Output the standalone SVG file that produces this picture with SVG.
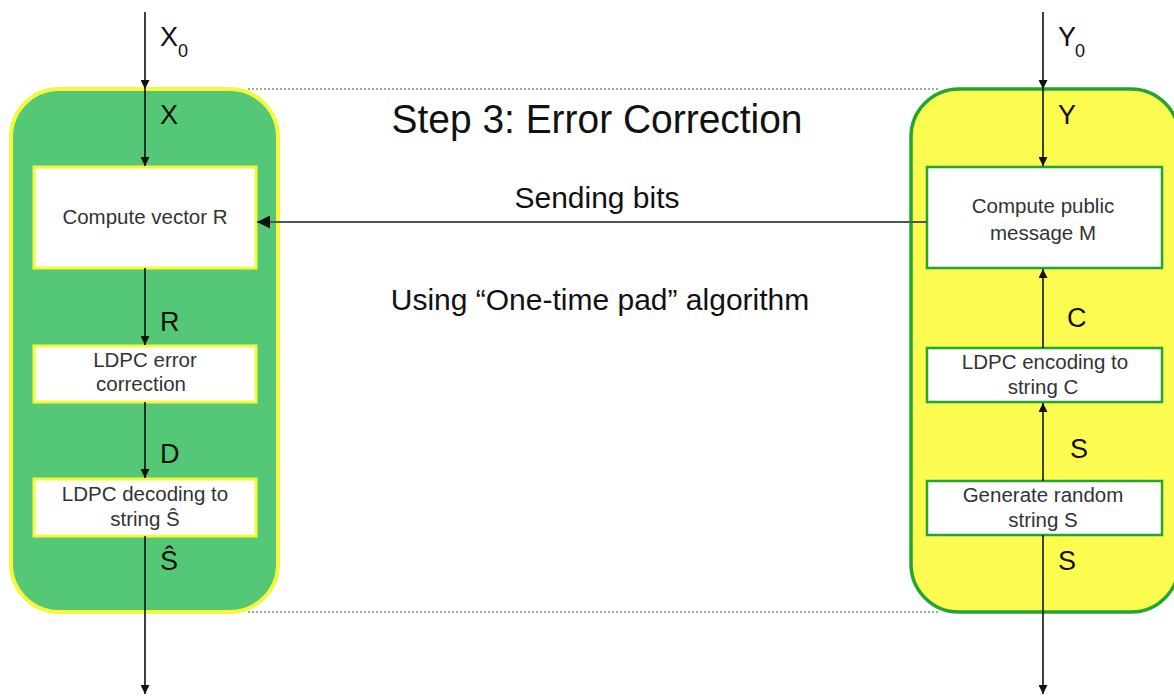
<svg xmlns="http://www.w3.org/2000/svg" width="1174" height="697" viewBox="0 0 1174 697">
<style>
text{font-family:"Liberation Sans",Arial,sans-serif}
.box{font-size:20.5px;fill:#333;text-anchor:middle}
.lbl{font-size:27px;fill:#111}
.sub{font-size:18px;fill:#111}
.big{font-size:30px;fill:#111;text-anchor:middle}
.ttl{font-size:40px;fill:#111;text-anchor:middle}
.ln{stroke:#111;stroke-width:1.6;fill:none}
.dot{stroke:#888;stroke-width:1.5;stroke-dasharray:2 2;fill:none}
</style>
<defs>
<marker id="ah" viewBox="0 0 10 10" refX="10" refY="5" markerWidth="9" markerHeight="9" markerUnits="userSpaceOnUse" orient="auto">
<path d="M0,0 L10,5 L0,10 z" fill="#111"/>
</marker>
<marker id="ahb" viewBox="0 0 10 10" refX="10" refY="5" markerWidth="13" markerHeight="13" markerUnits="userSpaceOnUse" orient="auto">
<path d="M0,0 L10,5 L0,10 z" fill="#111"/>
</marker>
</defs>
<rect width="1174" height="697" fill="#fff"/>
<g id="frame">
<line class="dot" x1="248" y1="89" x2="940" y2="89"/>
<line class="dot" x1="248" y1="612" x2="940" y2="612"/>
</g>
<g id="left-panel">
<rect x="11" y="89" width="267" height="523" rx="48" fill="#55c878" stroke="#f8f83a" stroke-width="4"/>
</g>
<g id="right-panel">
<rect x="911" y="89" width="268" height="523" rx="48" fill="#fcfc50" stroke="#22a532" stroke-width="3.5"/>
</g>
<g id="title"><text class="ttl" x="597" y="133" textLength="411" lengthAdjust="spacingAndGlyphs">Step 3: Error Correction</text></g>
<g id="note-sending"><text class="big" x="597" y="208">Sending bits</text></g>
<g id="note-otp"><text class="big" x="600" y="310">Using “One-time pad” algorithm</text></g>
<g id="computeR">
<rect x="34" y="167" width="222" height="101" fill="#fff" stroke="#f8f83a" stroke-width="3"/>
<text class="box" x="145" y="224">Compute vector R</text>
</g>
<g id="ldpcCorr">
<rect x="34" y="346" width="222" height="56" fill="#fff" stroke="#f8f83a" stroke-width="3"/>
<text class="box" x="145" y="367">LDPC error</text>
<text class="box" x="141" y="391">correction</text>
</g>
<g id="ldpcDec">
<rect x="34" y="479" width="222" height="57" fill="#fff" stroke="#f8f83a" stroke-width="3"/>
<text class="box" x="145" y="501">LDPC decoding to</text>
<text class="box" x="145" y="526">string Ŝ</text>
</g>
<g id="computeM">
<rect x="927" y="167" width="235" height="101" fill="#fff" stroke="#22a532" stroke-width="2.5"/>
<text class="box" x="1043" y="213">Compute public</text>
<text class="box" x="1043" y="240">message M</text>
</g>
<g id="ldpcEnc">
<rect x="927" y="348" width="235" height="54" fill="#fff" stroke="#22a532" stroke-width="2.5"/>
<text class="box" x="1045" y="369">LDPC encoding to</text>
<text class="box" x="1043" y="394">string C</text>
</g>
<g id="genS">
<rect x="927" y="481" width="235" height="54" fill="#fff" stroke="#22a532" stroke-width="2.5"/>
<text class="box" x="1043" y="502">Generate random</text>
<text class="box" x="1043" y="527">string S</text>
</g>
<g id="connectors">
<line class="ln" x1="145" y1="12" x2="145" y2="89" marker-end="url(#ah)"/>
<line class="ln" x1="145" y1="89" x2="145" y2="166" marker-end="url(#ah)"/>
<line class="ln" x1="145" y1="268" x2="145" y2="345" marker-end="url(#ah)"/>
<line class="ln" x1="145" y1="402" x2="145" y2="478" marker-end="url(#ah)"/>
<line class="ln" x1="145" y1="536" x2="145" y2="694" marker-end="url(#ah)"/>
<line class="ln" x1="1043" y1="12" x2="1043" y2="89" marker-end="url(#ah)"/>
<line class="ln" x1="1043" y1="89" x2="1043" y2="166" marker-end="url(#ah)"/>
<line class="ln" x1="1043" y1="348" x2="1043" y2="269" marker-end="url(#ah)"/>
<line class="ln" x1="1043" y1="481" x2="1043" y2="403" marker-end="url(#ah)"/>
<line class="ln" x1="1043" y1="535" x2="1043" y2="694" marker-end="url(#ah)"/>
<line x1="927" y1="222" x2="257" y2="222" stroke="#555" stroke-width="2" marker-end="url(#ahb)"/>
</g>
<g id="labels">
<text class="lbl" x="160" y="46">X</text><text class="sub" x="178" y="57">0</text>
<text class="lbl" x="160" y="124">X</text>
<text class="lbl" x="160" y="331">R</text>
<text class="lbl" x="160" y="463">D</text>
<text class="lbl" x="160" y="570">Ŝ</text>
<text class="lbl" x="1058" y="46">Y</text><text class="sub" x="1075" y="57">0</text>
<text class="lbl" x="1058" y="124">Y</text>
<text class="lbl" x="1067" y="327">C</text>
<text class="lbl" x="1070" y="458">S</text>
<text class="lbl" x="1058" y="570">S</text>
</g>
</svg>
